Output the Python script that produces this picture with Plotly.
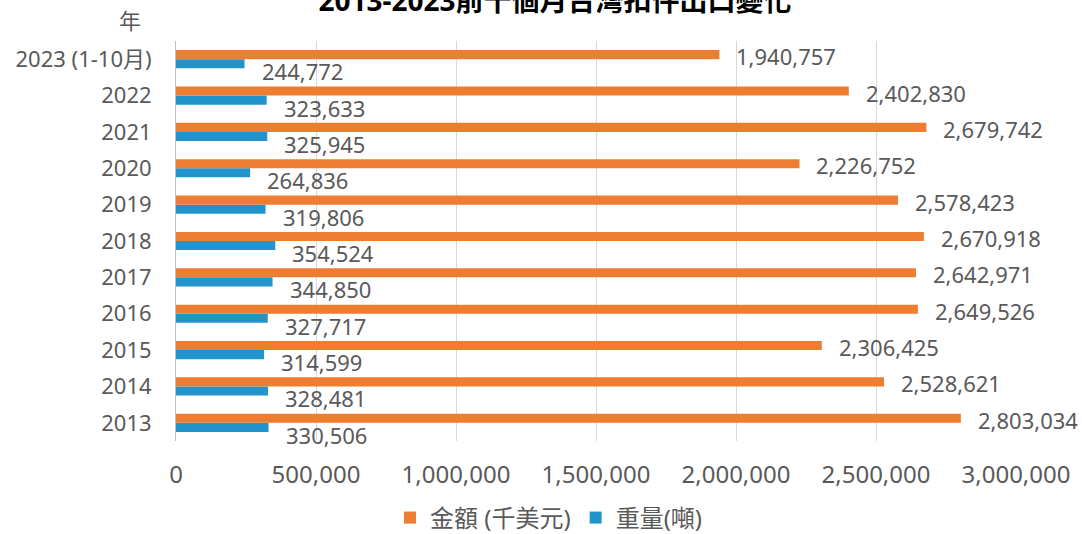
import plotly.graph_objects as go

years = ["2013", "2014", "2015", "2016", "2017", "2018", "2019", "2020", "2021", "2022", "2023 (1-10月)"]
amount = [2803034, 2528621, 2306425, 2649526, 2642971, 2670918, 2578423, 2226752, 2679742, 2402830, 1940757]
weight = [330506, 328481, 314599, 327717, 344850, 354524, 319806, 264836, 325945, 323633, 244772]
x_ticks = [0, 500000, 1000000, 1500000, 2000000, 2500000, 3000000]

ORANGE = "#ED7D31"
BLUE = "#2394CB"
GRAY = "#595959"
FONT = "Noto Sans, Noto Sans CJK TC, sans-serif"

pos = list(range(len(years)))

fig = go.Figure()
fig.add_trace(go.Bar(y=pos, x=weight, orientation="h", name="重量(噸)",
                     marker=dict(color=BLUE, line=dict(width=0)), legendrank=2, hoverinfo="skip"))
fig.add_trace(go.Bar(y=pos, x=amount, orientation="h", name="金額 (千美元)",
                     marker=dict(color=ORANGE, line=dict(width=0)), legendrank=1, hoverinfo="skip"))

annotations = []
for p, v in zip(pos, amount):
    annotations.append(dict(x=v, y=p, xref="x", yref="y", text=f"{v:,}", showarrow=False,
                            xanchor="left", yanchor="middle", xshift=15, yshift=3,
                            font=dict(family=FONT, size=22, color=GRAY)))
for p, v in zip(pos, weight):
    annotations.append(dict(x=v, y=p, xref="x", yref="y", text=f"{v:,}", showarrow=False,
                            xanchor="left", yanchor="middle", xshift=15, yshift=-12,
                            font=dict(family=FONT, size=22, color=GRAY)))
annotations.append(dict(x=-0.055, y=1.053, xref="paper", yref="paper", text="年", showarrow=False,
                        xanchor="center", yanchor="middle",
                        font=dict(family=FONT, size=22, color=GRAY)))

fig.update_layout(
    width=1082, height=534,
    margin=dict(l=176, r=66, t=41, b=93, autoexpand=False),
    paper_bgcolor="white", plot_bgcolor="white",
    barmode="group", bargap=0.5, bargroupgap=0,
    title=dict(text="<b>2013-2023前十個月台灣扣件出口變化</b>", x=555 / 1082, xanchor="center",
               xref="container", yref="container", y=0.998, yanchor="middle",
               font=dict(family=FONT, size=28, color="black")),
    xaxis=dict(range=[0, 3000000], tickvals=x_ticks, ticktext=[f"{t:,}" for t in x_ticks],
               showgrid=True, gridcolor="#D9D9D9", gridwidth=1, zeroline=False,
               showline=False, ticks="", ticklabelstandoff=17, automargin=False,
               tickfont=dict(family=FONT, size=24, color=GRAY), fixedrange=True),
    yaxis=dict(range=[-0.5, len(years) - 0.5], tickvals=pos, ticktext=years,
               showgrid=False, zeroline=False, showline=True, linecolor="#BFBFBF", linewidth=1,
               ticks="", ticklabelstandoff=19, automargin=False,
               tickfont=dict(family=FONT, size=22, color=GRAY), fixedrange=True),
    legend=dict(orientation="h", xref="container", yref="container", x=549 / 1082, xanchor="center",
                y=0.03, yanchor="middle", font=dict(family=FONT, size=24, color=GRAY),
                itemwidth=30, traceorder="normal"),
    annotations=annotations,
    showlegend=True,
)

fig.write_html("out.html")
